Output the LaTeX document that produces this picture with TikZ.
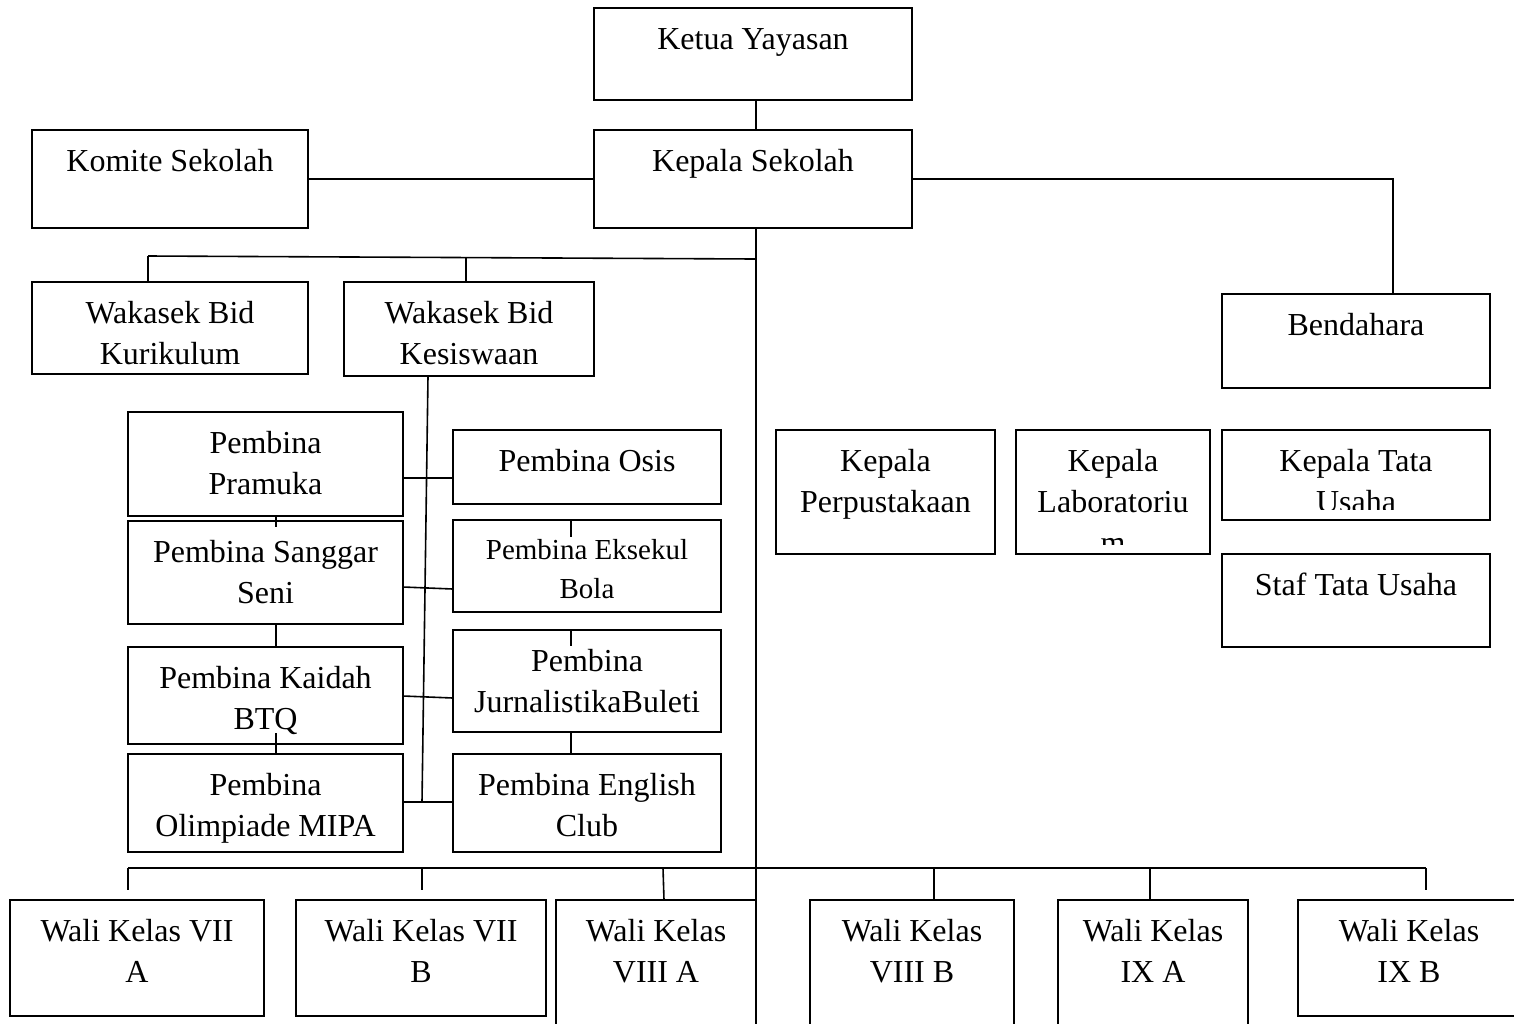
\documentclass[tikz,border=0pt]{standalone}
\usepackage{fontspec}
\setmainfont{Liberation Serif}
\tikzset{
  box/.style={draw, line width=1.6pt, inner sep=0pt, outer sep=0pt},
  txt/.style={anchor=north, align=center, inner sep=0pt, font=\fontsize{32}{41}\selectfont},
  conn/.style={line width=1.6pt},
}
% box: {name}{x1}{y1}{x2}{y2}
\newcommand\bx[5]{%
  \node[box, minimum width={#4-#2}, minimum height={#5-#3}] (#1) at ({(#2+#4)/2},{(#3+#5)/2}) {};
}
% box with text: [text opts]{name}{x1}{y1}{x2}{y2}{text}
\newcommand\bxt[7][]{%
  \bx{#2}{#3}{#4}{#5}{#6}%
  \node[txt,#1] (#2-t) at ({(#3+#5)/2},{#4+12.3}) {\strut#7};
}
% clipped text: {name}{x1}{y1}{x2}{y2}{clip y}{text}
\newcommand\bxc[7]{%
  \bx{#1}{#2}{#3}{#4}{#5}%
  \begin{scope}
    \clip (#2,#3) rectangle (#4,#6);
    \node[txt] (#1-t) at ({(#2+#4)/2},{#3+12.3}) {\strut#7};
  \end{scope}
}
\begin{document}
\begin{tikzpicture}[x=1pt,y=-1pt]
\useasboundingbox (0,0) rectangle (1514,1023);
\fill[white] (0,0) rectangle (1514,1023);
\clip (0,0) rectangle (1514,1023);

% top
\bxt{ketua}{594}{8}{912}{100}{Ketua Yayasan}
\bxt{kepala}{594}{130}{912}{228}{Kepala Sekolah}
\bxt{komite}{32}{130}{308}{228}{Komite Sekolah}
\bxt{kuri}{32}{282}{308}{374}{Wakasek Bid\\Kurikulum}
\bxt{kesis}{344}{282}{594}{376}{Wakasek Bid\\Kesiswaan}
\bxt{bend}{1222}{294}{1490}{388}{Bendahara}

% pembina
\bxt{pramuka}{128}{412}{403}{516}{Pembina\\Pramuka}
\bxt{sanggar}{128}{521}{403}{624}{Pembina Sanggar\\Seni}
\bxt{kaidah}{128}{647}{403}{744}{Pembina Kaidah\\BTQ}
\bxt{olimp}{128}{754}{403}{852}{Pembina\\Olimpiade MIPA}
\bxt{osis}{453}{430}{721}{504}{Pembina Osis}
\bxt[font=\fontsize{29}{39}\selectfont]{eksekul}{453}{520}{721}{612}{Pembina Eksekul\\Bola}
\bxt{jurnal}{453}{630}{721}{732}{Pembina\\JurnalistikaBuleti}
\bxt{english}{453}{754}{721}{852}{Pembina English\\Club}

% right middle
\bxt{perpus}{776}{430}{995}{554}{Kepala\\Perpustakaan}
\bxc{lab}{1016}{430}{1210}{554}{544}{Kepala\\Laboratoriu\\m}
\bxc{ktu}{1222}{430}{1490}{520}{509}{Kepala Tata\\Usaha}
\bxt{staf}{1222}{554}{1490}{647}{Staf Tata Usaha}

% wali kelas
\bxt{w7a}{10}{900}{264}{1016}{Wali Kelas VII\\A}
\bxt{w7b}{296}{900}{546}{1016}{Wali Kelas VII\\B}
\bxt{w8a}{556}{900}{756}{1040}{Wali Kelas\\VIII A}
\bxt{w8b}{810}{900}{1014}{1040}{Wali Kelas\\VIII B}
\bxt{w9a}{1058}{900}{1248}{1040}{Wali Kelas\\IX A}
\bxt{w9b}{1298}{900}{1520}{1016}{Wali Kelas\\IX B}

% coordinates
\coordinate (spine) at (756,0);
\coordinate (bx) at (1393,0);
\coordinate (spineEnd) at (756,1030);
\coordinate (h1) at (148,256);
\coordinate (h2) at (756,259);
\coordinate (h3) at (466,257.5);
\coordinate (k1) at (428,376);
\coordinate (k2) at (422,802);
\coordinate (b1) at (128,868);
\coordinate (b2) at (1426,868);

% connectors
\draw[conn] (ketua.south -| spine) -- (kepala.north -| spine);
\draw[conn] (komite.east) -- (kepala.west);
\draw[conn] (kepala.east) -| (bx |- bend.north);
\draw[conn] (kepala.south -| spine) -- (spineEnd);
\draw[conn] (h1) -- (h2);
\draw[conn] (h1) -- (h1 |- kuri.north);
\draw[conn] (h3) -- (h3 |- kesis.north);
\draw[conn] (k1) -- (k2);

\draw[conn] (pramuka.east |- 0,478) -- (osis.west |- 0,478);
\draw[conn] (sanggar.east |- 0,587) -- (eksekul.west |- 0,589);
\draw[conn] (kaidah.east |- 0,696) -- (jurnal.west |- 0,698);
\draw[conn] (olimp.east |- 0,802) -- (english.west |- 0,802);

\draw[conn] (pramuka.south -| 276,0) -- (276,527);
\draw[conn] (sanggar.south -| 276,0) -- (kaidah.north -| 276,0);
\draw[conn] (276,733) -- (olimp.north -| 276,0);
\draw[conn] (eksekul.north -| 571,0) -- (571,537);
\draw[conn] (jurnal.north -| 571,0) -- (571,646);
\draw[conn] (jurnal.south -| 571,0) -- (english.north -| 571,0);

\draw[conn] (b1) -- (b2);
\draw[conn] (b1) -- (128,890);
\draw[conn] (422,868) -- (422,890);
\draw[conn] (663,868) -- (w8a.north -| 664,0);
\draw[conn] (934,868) -- (w8b.north -| 934,0);
\draw[conn] (1150,868) -- (w9a.north -| 1150,0);
\draw[conn] (b2) -- (1426,890);
\end{tikzpicture}
\end{document}
